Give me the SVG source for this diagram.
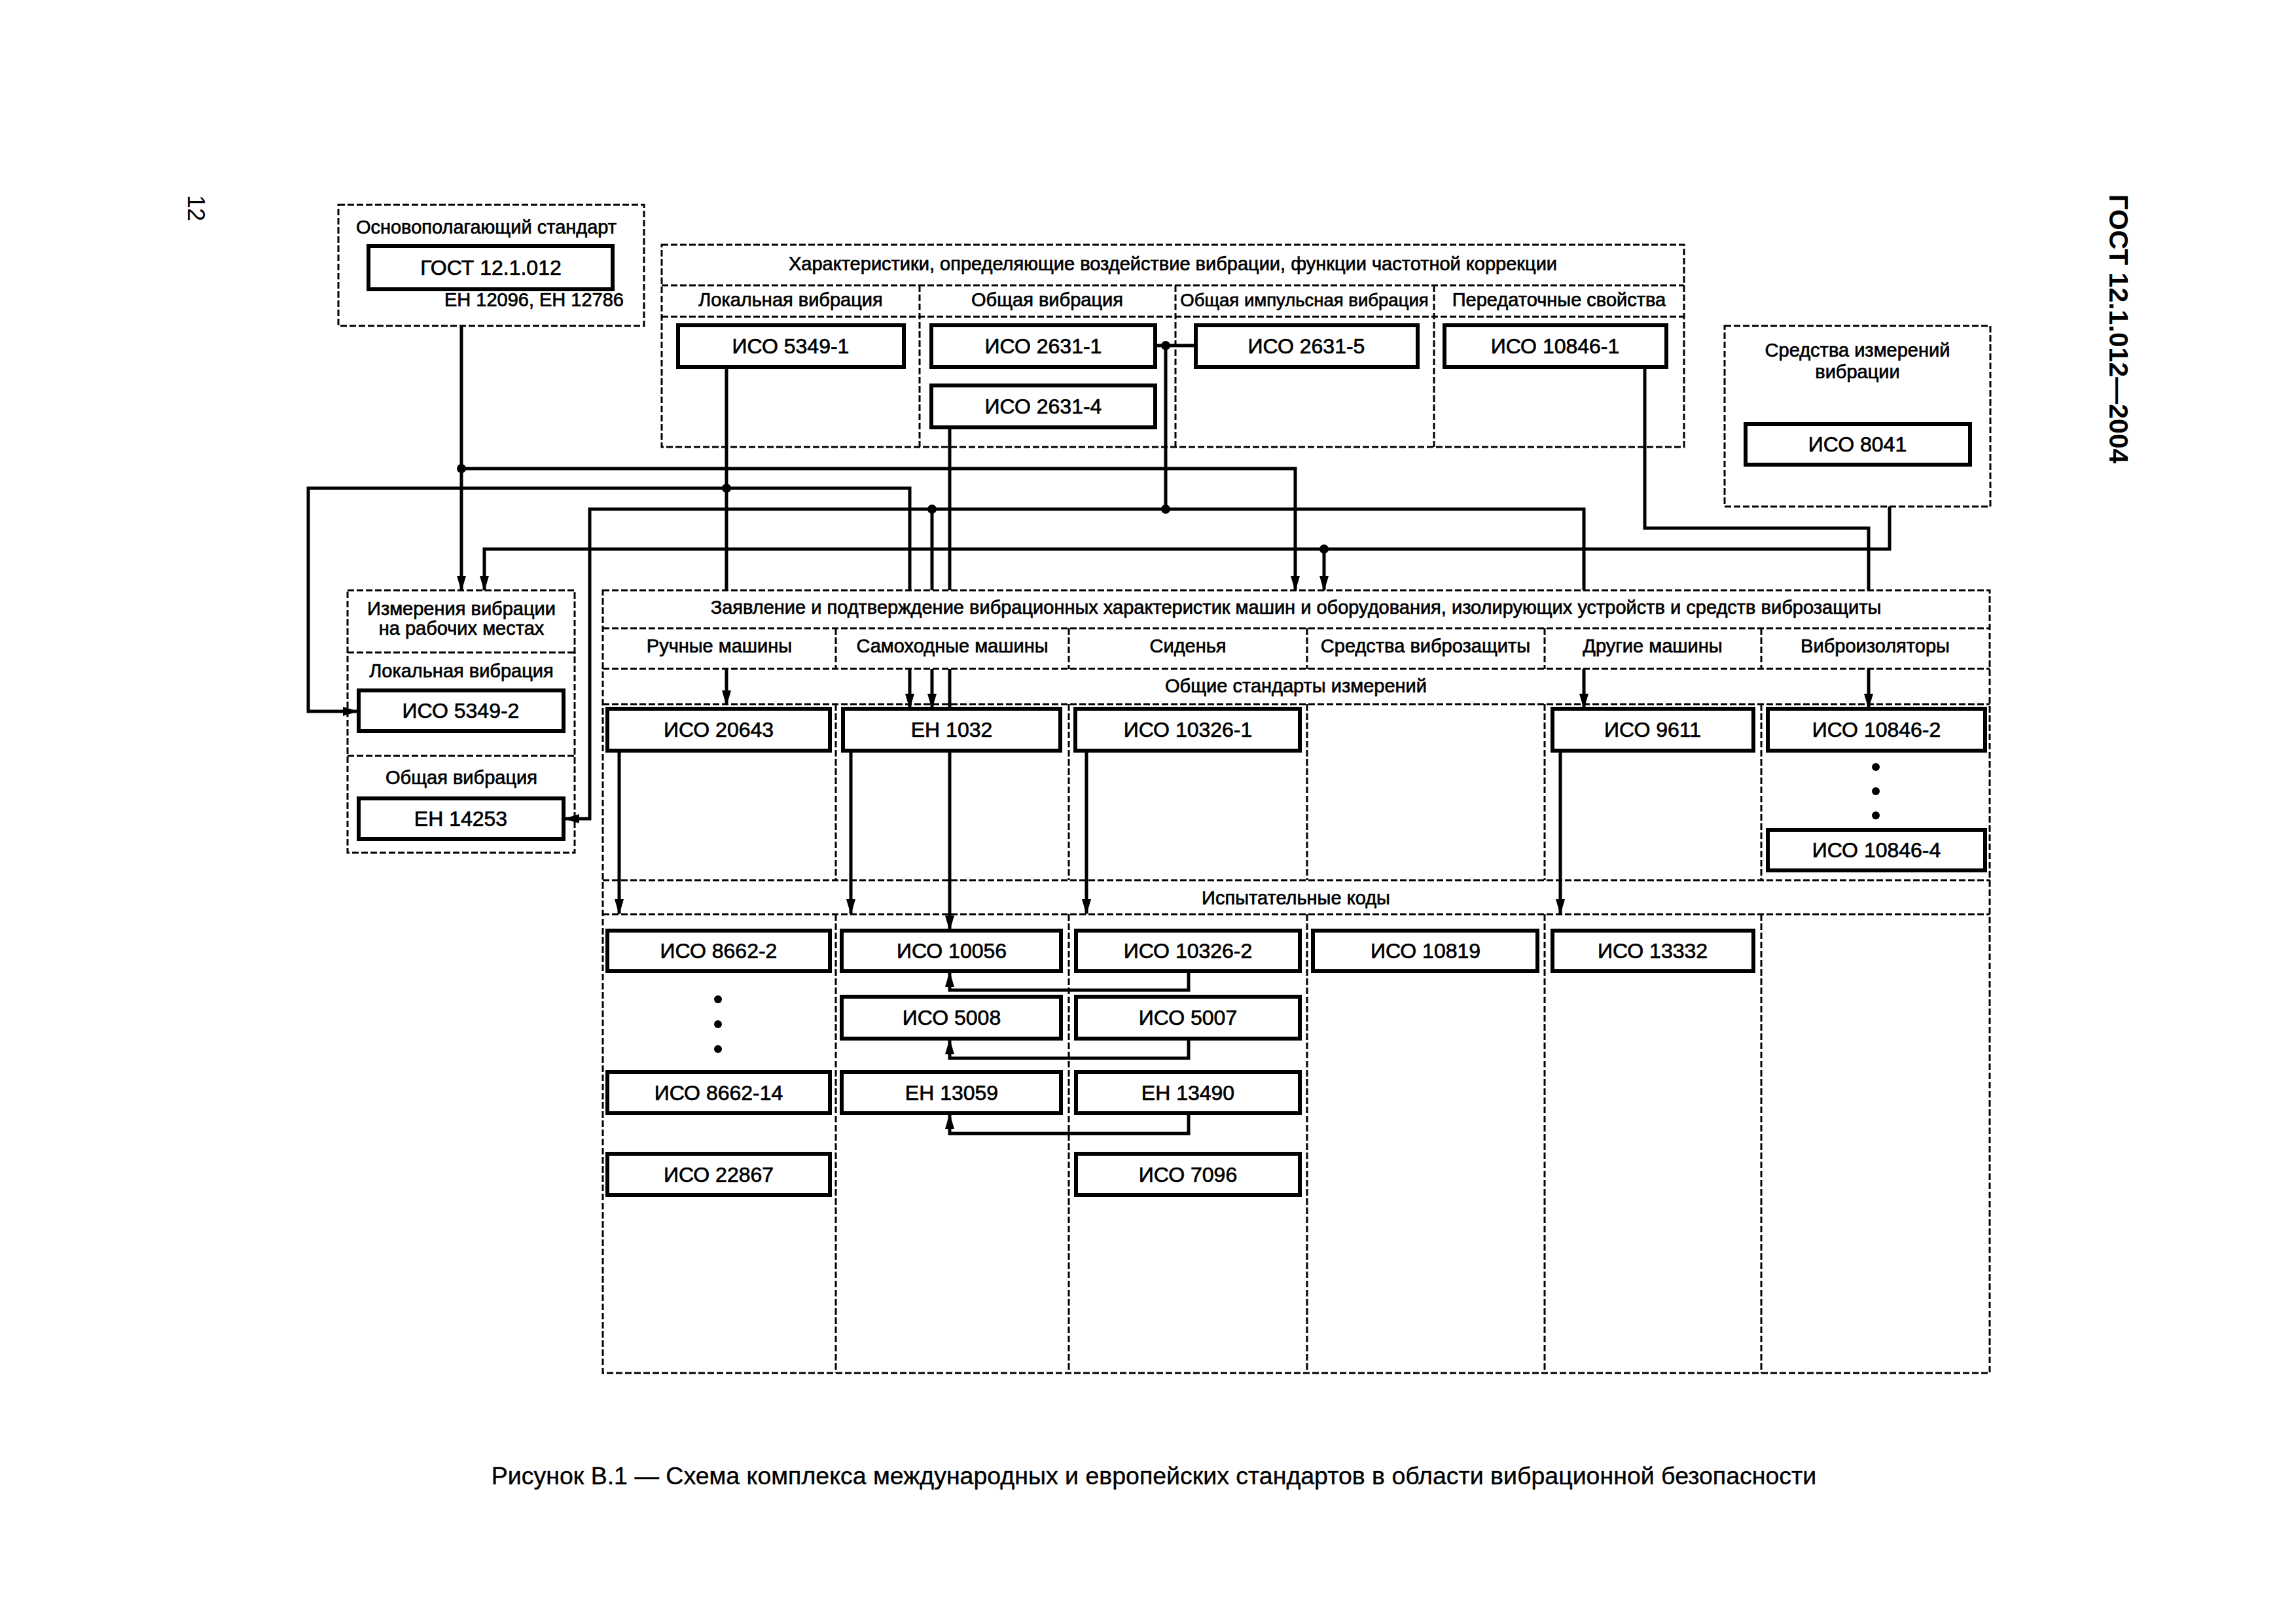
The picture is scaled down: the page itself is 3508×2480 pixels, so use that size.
<svg xmlns="http://www.w3.org/2000/svg" width="3508" height="2480" viewBox="0 0 3508 2480">
<style>
text{font-family:"Liberation Sans",Arial,sans-serif;fill:#000;stroke:#000;stroke-width:0.7}
.lb{font-size:29px;text-anchor:middle}
.cd{font-size:32px;text-anchor:middle}
.ds{fill:none;stroke:#000;stroke-width:3;stroke-dasharray:10 4}
.nd{fill:#fff;stroke:#000;stroke-width:6}
.cn{fill:none;stroke:#000;stroke-width:5}
.ar{marker-end:url(#arr)}
</style>
<defs>
<marker id="arr" viewBox="-24 -8 27 16" refX="0" refY="0" markerWidth="27" markerHeight="16" markerUnits="userSpaceOnUse" orient="auto">
<path d="M2,0 L-22,-7 L-22,7 Z" fill="#000"/>
</marker>
</defs>
<rect width="3508" height="2480" fill="#fff"/>
<text transform="translate(287,298) rotate(90)" style="font-size:36px;stroke-width:0">12</text>
<text transform="translate(3223,297) rotate(90)" style="font-size:41px;font-weight:bold;stroke-width:0">ГОСТ 12.1.012—2004</text>

<g id="frameA">
<rect class="ds" x="517" y="313" width="467" height="185"/>
<text class="lb" x="743" y="357">Основополагающий стандарт</text>
<text x="953" y="468" style="font-size:29px;text-anchor:end">ЕН 12096, ЕН 12786</text>
</g>
<g id="n-gost"><rect class="nd" x="563" y="376" width="373" height="66"/><text class="cd" x="750" y="420">ГОСТ 12.1.012</text></g>

<g id="frameB">
<rect class="ds" x="1011" y="374" width="1562" height="309"/>
<text class="lb" x="1792" y="413">Характеристики, определяющие воздействие вибрации, функции частотной коррекции</text>
<path class="ds" d="M1011,436 H2573 M1011,484 H2573 M1405,436 V683 M1796,436 V683 M2191,436 V683"/>
<text class="lb" x="1208" y="468">Локальная вибрация</text>
<text class="lb" x="1600" y="468">Общая вибрация</text>
<text class="lb" x="1993" y="468" style="font-size:27.5px">Общая импульсная вибрация</text>
<text class="lb" x="2382" y="468">Передаточные свойства</text>
</g>
<g id="n-5349-1"><rect class="nd" x="1036" y="497" width="345" height="64"/><text class="cd" x="1208" y="540">ИСО 5349-1</text></g>
<g id="n-2631-1"><rect class="nd" x="1423" y="497" width="342" height="64"/><text class="cd" x="1594" y="540">ИСО 2631-1</text></g>
<g id="n-2631-5"><rect class="nd" x="1827" y="497" width="339" height="64"/><text class="cd" x="1996" y="540">ИСО 2631-5</text></g>
<g id="n-10846-1"><rect class="nd" x="2207" y="497" width="339" height="64"/><text class="cd" x="2376" y="540">ИСО 10846-1</text></g>
<g id="n-2631-4"><rect class="nd" x="1423" y="589" width="342" height="64"/><text class="cd" x="1594" y="632">ИСО 2631-4</text></g>

<g id="frameC">
<rect class="ds" x="2635" y="498" width="406" height="276"/>
<text class="lb" x="2838" y="545">Средства измерений</text>
<text class="lb" x="2838" y="578">вибрации</text>
</g>
<g id="n-8041"><rect class="nd" x="2667" y="648" width="343" height="62"/><text class="cd" x="2838" y="690">ИСО 8041</text></g>

<g id="frameD">
<rect class="ds" x="531" y="902" width="347" height="401"/>
<text class="lb" x="705" y="940">Измерения вибрации</text>
<text class="lb" x="705" y="970">на рабочих местах</text>
<path class="ds" d="M531,997 H878 M531,1155 H878"/>
<text class="lb" x="705" y="1035">Локальная вибрация</text>
<text class="lb" x="705" y="1198">Общая вибрация</text>
</g>
<g id="n-5349-2"><rect class="nd" x="548" y="1055" width="313" height="62"/><text class="cd" x="704" y="1097">ИСО 5349-2</text></g>
<g id="n-14253"><rect class="nd" x="548" y="1220" width="313" height="62"/><text class="cd" x="704" y="1262">ЕН 14253</text></g>

<g id="frameE">
<rect class="ds" x="921" y="902" width="2119" height="1196"/>
<text class="lb" x="1980" y="938">Заявление и подтверждение вибрационных характеристик машин и оборудования, изолирующих устройств и средств виброзащиты</text>
<path class="ds" d="M921,960 H3040 M921,1022 H3040 M921,1076 H3040 M921,1345 H3040 M921,1397 H3040
M1277,960 V1022 M1633,960 V1022 M1997,960 V1022 M2360,960 V1022 M2691,960 V1022
M1277,1076 V1345 M1633,1076 V1345 M1997,1076 V1345 M2360,1076 V1345 M2691,1076 V1345
M1277,1397 V2098 M1633,1397 V2098 M1997,1397 V2098 M2360,1397 V2098 M2691,1397 V2098"/>
<text class="lb" x="1099" y="997">Ручные машины</text>
<text class="lb" x="1455" y="997">Самоходные машины</text>
<text class="lb" x="1815" y="997">Сиденья</text>
<text class="lb" x="2178" y="997">Средства виброзащиты</text>
<text class="lb" x="2525" y="997">Другие машины</text>
<text class="lb" x="2865" y="997">Виброизоляторы</text>
<text class="lb" x="1980" y="1058">Общие стандарты измерений</text>
<text class="lb" x="1980" y="1382">Испытательные коды</text>
</g>

<g id="connectors">
<path class="cn ar" d="M705,498 V902"/>
<path class="cn ar" d="M705,716 H1979 V902"/>
<path class="cn" d="M1110,561 V902"/>
<path class="cn ar" d="M1390,902 V746 H471 V1087 H546"/>
<path class="cn ar" d="M2420,902 V778 H901 V1251 H863"/>
<path class="cn" d="M1424,778 V902"/>
<path class="cn" d="M1765,528 H1827 M1781,528 V778"/>
<path class="cn" d="M2513,561 V807 H2855 V902"/>
<path class="cn ar" d="M2887,774 V839 H740 V902"/>
<path class="cn ar" d="M2023,839 V902"/>
<path class="cn" d="M1451,653 V902 M1451,1022 V1083"/>
<path class="cn ar" d="M1110,1022 V1077"/>
<path class="cn ar" d="M1390,1022 V1082"/>
<path class="cn ar" d="M1424,1022 V1082"/>
<path class="cn ar" d="M2420,1022 V1082"/>
<path class="cn ar" d="M2855,1022 V1082"/>
<path class="cn ar" d="M1451,1147 V1421"/>
<path class="cn ar" d="M946,1147 V1396"/>
<path class="cn ar" d="M1300,1147 V1396"/>
<path class="cn ar" d="M1660,1147 V1396"/>
<path class="cn ar" d="M2384,1147 V1396"/>
<path class="cn ar" d="M1816,1484 V1513 H1451 V1486"/>
<path class="cn ar" d="M1816,1587 V1617 H1451 V1589"/>
<path class="cn ar" d="M1816,1701 V1732 H1451 V1703"/>
<circle cx="705" cy="716" r="7"/>
<circle cx="1110" cy="746" r="7"/>
<circle cx="1424" cy="778" r="7"/>
<circle cx="1781" cy="778" r="7"/>
<circle cx="1781" cy="528" r="7"/>
<circle cx="2023" cy="839" r="7"/>
</g>

<g id="n-20643"><rect class="nd" x="928" y="1083" width="340" height="64"/><text class="cd" x="1098" y="1126">ИСО 20643</text></g>
<g id="n-1032"><rect class="nd" x="1288" y="1083" width="332" height="64"/><text class="cd" x="1454" y="1126">ЕН 1032</text></g>
<g id="n-10326-1"><rect class="nd" x="1643" y="1083" width="343" height="64"/><text class="cd" x="1815" y="1126">ИСО 10326-1</text></g>
<g id="n-9611"><rect class="nd" x="2372" y="1083" width="307" height="64"/><text class="cd" x="2525" y="1126">ИСО 9611</text></g>
<g id="n-10846-2"><rect class="nd" x="2701" y="1083" width="332" height="64"/><text class="cd" x="2867" y="1126">ИСО 10846-2</text></g>
<g id="n-10846-4"><rect class="nd" x="2701" y="1268" width="332" height="62"/><text class="cd" x="2867" y="1310">ИСО 10846-4</text></g>
<g id="dots6"><circle cx="2866" cy="1172" r="6"/><circle cx="2866" cy="1209" r="6"/><circle cx="2866" cy="1246" r="6"/></g>

<g id="n-8662-2"><rect class="nd" x="928" y="1422" width="340" height="62"/><text class="cd" x="1098" y="1464">ИСО 8662-2</text></g>
<g id="n-10056"><rect class="nd" x="1286" y="1422" width="335" height="62"/><text class="cd" x="1454" y="1464">ИСО 10056</text></g>
<g id="n-10326-2"><rect class="nd" x="1644" y="1422" width="342" height="62"/><text class="cd" x="1815" y="1464">ИСО 10326-2</text></g>
<g id="n-10819"><rect class="nd" x="2006" y="1422" width="343" height="62"/><text class="cd" x="2178" y="1464">ИСО 10819</text></g>
<g id="n-13332"><rect class="nd" x="2372" y="1422" width="307" height="62"/><text class="cd" x="2525" y="1464">ИСО 13332</text></g>
<g id="n-5008"><rect class="nd" x="1286" y="1523" width="335" height="64"/><text class="cd" x="1454" y="1566">ИСО 5008</text></g>
<g id="n-5007"><rect class="nd" x="1644" y="1523" width="342" height="64"/><text class="cd" x="1815" y="1566">ИСО 5007</text></g>
<g id="n-8662-14"><rect class="nd" x="928" y="1638" width="340" height="63"/><text class="cd" x="1098" y="1681">ИСО 8662-14</text></g>
<g id="n-13059"><rect class="nd" x="1286" y="1638" width="335" height="63"/><text class="cd" x="1454" y="1681">ЕН 13059</text></g>
<g id="n-13490"><rect class="nd" x="1644" y="1638" width="342" height="63"/><text class="cd" x="1815" y="1681">ЕН 13490</text></g>
<g id="n-22867"><rect class="nd" x="928" y="1763" width="340" height="63"/><text class="cd" x="1098" y="1806">ИСО 22867</text></g>
<g id="n-7096"><rect class="nd" x="1644" y="1763" width="342" height="63"/><text class="cd" x="1815" y="1806">ИСО 7096</text></g>
<g id="dots1"><circle cx="1097" cy="1527" r="6"/><circle cx="1097" cy="1565" r="6"/><circle cx="1097" cy="1603" r="6"/></g>

<text x="1763" y="2268" style="font-size:37.5px;text-anchor:middle;stroke-width:0.4">Рисунок В.1 — Схема комплекса международных и европейских стандартов в области вибрационной безопасности</text>
</svg>
